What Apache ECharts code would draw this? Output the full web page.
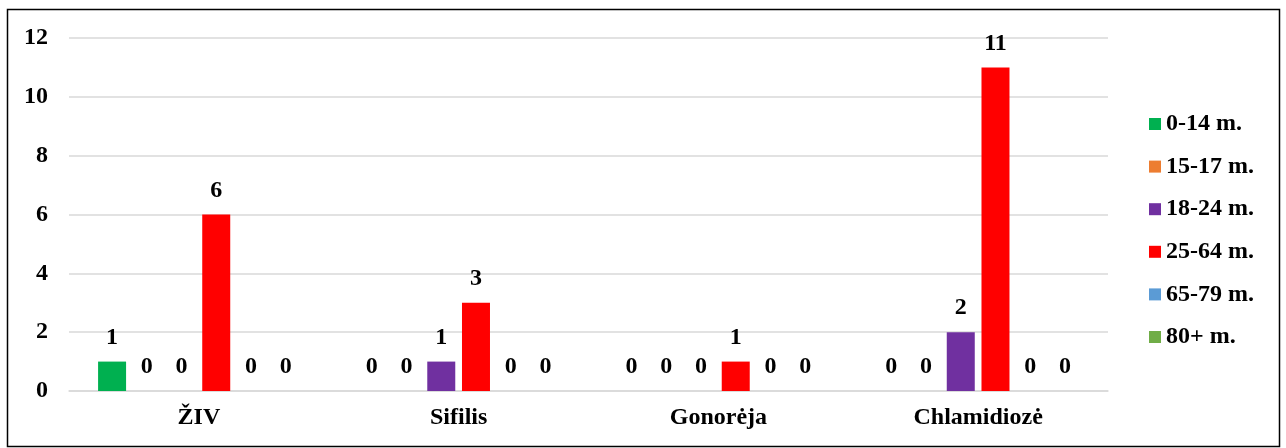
<!DOCTYPE html>
<html>
<head>
<meta charset="utf-8">
<script src="https://cdn.jsdelivr.net/npm/echarts@6/dist/echarts.min.js"></script>
<style>
html,body{margin:0;padding:0;background:#fff;}
#chart{width:1286px;height:448px;}
</style>
</head>
<body>
<div id="chart"></div>
<script>
const categories = ['ŽIV', 'Sifilis', 'Gonorėja', 'Chlamidiozė'];
const seriesNames = ['0-14 m.', '15-17 m.', '18-24 m.', '25-64 m.', '65-79 m.', '80+ m.'];
const seriesColors = ['#00B050', '#ED7D31', '#7030A0', '#FF0000', '#5B9BD5', '#70AD47'];
const s0_14 = [1, 0, 0, 0];
const s15_17 = [0, 0, 0, 0];
const s18_24 = [0, 1, 0, 2];
const s25_64 = [6, 3, 1, 11];
const s65_79 = [0, 0, 0, 0];
const s80 = [0, 0, 0, 0];
const yTicks = [0, 2, 4, 6, 8, 10, 12];

const seriesData = [s0_14, s15_17, s18_24, s25_64, s65_79, s80];
const font = '"Liberation Serif", "Times New Roman", serif';
const FS = 24;

const chart = echarts.init(document.getElementById('chart'));
chart.setOption({
  animation: false,
  textStyle: { fontFamily: font },
  graphic: [{
    type: 'rect',
    shape: { x: 7.5, y: 9.5, width: 1272, height: 437 },
    style: { fill: 'none', stroke: '#000', lineWidth: 1.5 },
    silent: true
  }],
  grid: { left: 69, right: 178, top: 38, bottom: 57 },
  legend: {
    orient: 'vertical',
    left: 1149,
    top: 112,
    padding: 0,
    itemWidth: 12,
    itemHeight: 12,
    itemGap: 18.6,
    icon: 'rect',
    textStyle: { fontFamily: font, fontWeight: 'bold', fontSize: FS, color: '#000', lineHeight: FS },
    data: seriesNames
  },
  xAxis: {
    type: 'category',
    data: categories,
    axisTick: { show: false },
    axisLine: { lineStyle: { color: '#d9d9d9', width: 1.5 } },
    axisLabel: { fontFamily: font, fontWeight: 'bold', fontSize: FS, color: '#000', margin: 15 }
  },
  yAxis: {
    type: 'value',
    min: yTicks[0],
    max: yTicks[yTicks.length - 1],
    interval: 2,
    axisLine: { show: false },
    axisTick: { show: false },
    splitLine: { lineStyle: { color: '#d9d9d9', width: 1.5 } },
    axisLabel: { fontFamily: font, fontWeight: 'bold', fontSize: FS, color: '#000', margin: 21 }
  },
  series: seriesNames.map((name, i) => ({
    name: name,
    type: 'bar',
    data: seriesData[i],
    barWidth: 28,
    barGap: '24%',
    itemStyle: { color: seriesColors[i] },
    label: {
      show: true,
      position: 'top',
      distance: 12,
      fontFamily: font,
      fontWeight: 'bold',
      fontSize: FS,
      color: '#000'
    }
  }))
});
</script>
</body>
</html>
